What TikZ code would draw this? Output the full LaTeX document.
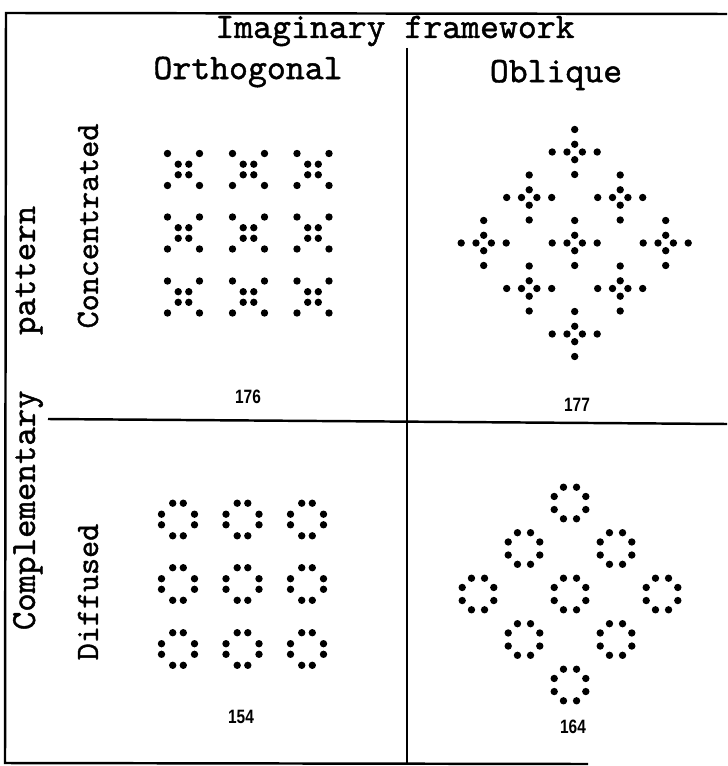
\documentclass[tikz,border=0pt]{standalone}
\usepackage{fontspec}
\setmonofont{lmmono10-regular.otf}[FakeBold=1.2]
\newfontfamily\numfont[FakeStretch=0.8]{Liberation Sans}
\usepackage{tikz}
\usetikzlibrary{positioning,calc}
\tikzset{
  frameLine/.style={line width=1.4pt, draw=black},
  dotFill/.style={fill=black},
  headLabel/.style={font=\ttfamily\fontsize{20.5}{24}\selectfont, inner sep=0pt},
  sideLabel/.style={font=\ttfamily\fontsize{20}{24}\selectfont, inner sep=0pt, rotate=90},
  rowLabel/.style={sideLabel, font=\ttfamily\fontsize{18.5}{22}\selectfont},
  numLabel/.style={font=\numfont\bfseries\fontsize{11}{13}\selectfont, inner sep=0pt}
}

\begin{document}
\begin{tikzpicture}[x=0.02cm,y=-0.02cm]
  \useasboundingbox (0,0) rectangle (727,766);
  % frame and dividers
  \draw[frameLine] (727,14) -- (6,13) -- (5,763) -- (588,764);
  \draw[frameLine] (407,48) -- (407,764);
  \draw[frameLine] (48,419) -- (727,424);
  % headings
  \node[headLabel] (frameTitle) at (395,31) {Imaginary framework};
  \node[headLabel] (orthHead) at (248,72) {Orthogonal};
  \node[headLabel] (oblHead) at (556,75) {Oblique};
  \node[sideLabel] (patternHead) at (28,418) {Complementary\ \ \ pattern};
  \node[rowLabel] (concHead) at (88,226) {Concentrated};
  \node[rowLabel] (diffHead) at (88,592) {Diffused};
  % figure numbers
  \node[numLabel] (figA) at (248,397) {176};
  \node[numLabel] (figB) at (577,405) {177};
  \node[numLabel] (figC) at (241,717) {154};
  \node[numLabel] (figD) at (573,727) {164};
  % concentrated, orthogonal
  \foreach \cx in {183.5,248.5,313}
    \foreach \cy in {169.5,233,297}
      \foreach \dx/\dy in {-16/-16,16/-16,-16/16,16/16,-5.3/-5.3,5.3/-5.3,-5.3/5.3,5.3/5.3}
        \fill[dotFill] (\cx+\dx,\cy+\dy) circle (2.1pt);
  % concentrated, oblique
  \foreach \i/\j in {0/-2,-1/-1,1/-1,-2/0,0/0,2/0,-1/1,1/1,0/2}
    \foreach \dx/\dy in {0/-7.7,0/7.7,-7.7/0,7.7/0,0/-22.5,0/22.5,-22.5/0,22.5/0}
      \fill[dotFill] (574.7+45.5*\i+\dx,243+45.5*\j+\dy) circle (2.1pt);
  % diffused, orthogonal
  \foreach \cx in {178,242.5,307}
    \foreach \cy in {519.5,584,649}
      \foreach \dx/\dy in {-5.3/-16.3,5.3/-16.3,-16.5/-5.3,16.5/-5.3,-16.5/5.3,16.5/5.3,-5.3/16.3,5.3/16.3}
        \fill[dotFill] (\cx+\dx,\cy+\dy) circle (2.1pt);
  % diffused, oblique
  \foreach \i/\j in {0/-2,-1/-1,1/-1,-2/0,0/0,2/0,-1/1,1/1,0/2}
    \foreach \a in {22.5,67.5,...,337.5}
      \fill[dotFill] ($(570+46*\i,594+45.5*\j)+(\a:17.1)$) circle (2.1pt);
\end{tikzpicture}
\end{document}
